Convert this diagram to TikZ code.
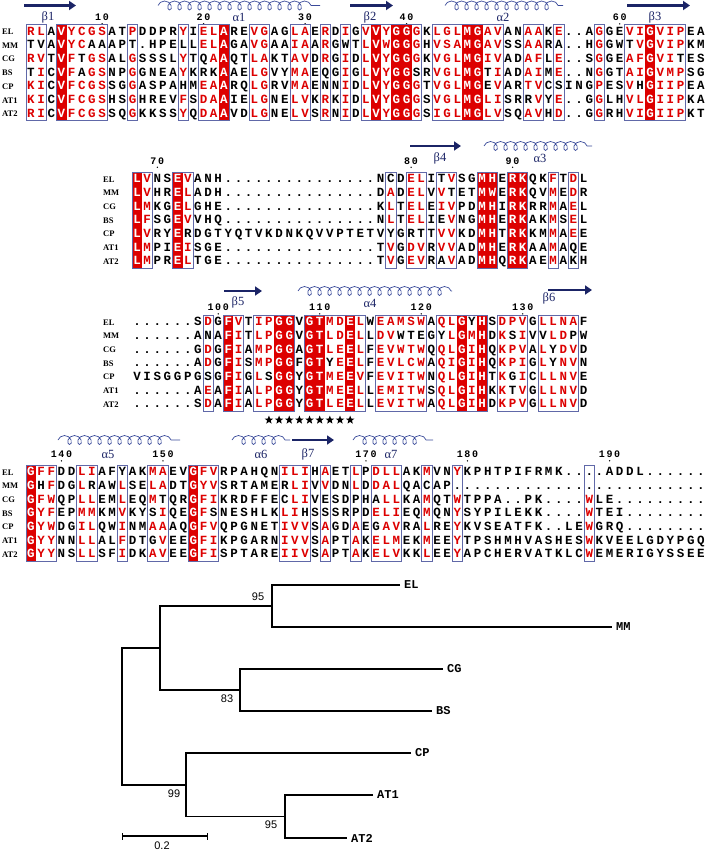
\documentclass[tikz,border=0pt]{standalone}
\usepackage{fontspec}
\setmainfont{Liberation Serif}
\setsansfont{Liberation Sans}
\setmonofont{Liberation Mono}
\usetikzlibrary{arrows.meta, decorations.pathmorphing, shapes.geometric}
\definecolor{espred}{HTML}{DD0000}
\definecolor{frameblue}{HTML}{6068A8}
\definecolor{ssnavy}{HTML}{1B2466}
\definecolor{ssblue}{HTML}{3A4A9A}

\makeatletter
\newcount\seqcol
\newcommand\colstep{10.15}
% one alignment row: block, label, x of label, x of first column, y, residues (lower case = red)
\newcommand\seqrow[6]{%
  \node[rowname] (#1#2) at (#3,#5+3) {#2};
  \seqcol=0
  \@tfor\seqch:=#6\do{%
    \advance\seqcol by 1
    \pgfmathsetmacro\seqx{#4+(\the\seqcol-1)*\colstep}%
    \ifcsname solid#1@\the\seqcol\endcsname\def\seqclr{white}%
    \else\ifnum\expandafter`\seqch>96 \def\seqclr{espred}\else\def\seqclr{black}\fi\fi
    \node[res, text=\seqclr] (#1#2-\the\seqcol) at (\seqx,#5+3.6) {\uppercase\expandafter{\seqch}};%
  }}
% strictly conserved columns: block, x of first column, top, bottom, columns
\newcommand\solidcols[5]{%
  \foreach \colno in {#5}{%
    \expandafter\gdef\csname solid#1@\colno\endcsname{}%
    \fill[espred] ({#2+(\colno-1.5)*\colstep},#3) rectangle ({#2+(\colno-0.5)*\colstep},#4);}}
% similarity frames: x of first column, top, bottom, column ranges
\newcommand\framecols[4]{%
  \foreach \p/\q in {#4}{%
    \draw[simframe] ({#1+(\p-1.5)*\colstep},#2) rectangle ({#1+(\q-0.5)*\colstep},#3);}}
% residue number with its dot: name, x of first column, column, baseline y, text
\newcommand\resnum[5]{%
  \node[numtag] (#1) at ({#2+(#3-1)*\colstep},#4) {#5};
  \fill ({#2+(#3-1)*\colstep},#4+3.3) circle (0.75);}
\makeatother

\begin{document}
\begin{tikzpicture}[x=1pt, y=-1pt, >={Triangle[length=7pt, width=9pt]},
  res/.style={font=\ttfamily\bfseries\fontsize{12.5}{12.5}\selectfont, inner sep=0, anchor=base},
  rowname/.style={font=\bfseries\fontsize{8.5}{8.5}\selectfont, inner sep=0, anchor=base west},
  numtag/.style={font=\ttfamily\bfseries\fontsize{10}{10}\selectfont, inner sep=0, anchor=base},
  sslbl/.style={font=\fontsize{12.5}{12.5}\selectfont, text=ssnavy, inner sep=0},
  strand/.style={ssnavy, line width=2.8pt, ->},
  helix/.style={ssblue, line width=0.7pt, decorate,
    decoration={coil, aspect=0.9, segment length=10pt, amplitude=4.5pt}},
  simframe/.style={draw=frameblue, line width=0.6pt},
  starmark/.style={star, star points=5, star point ratio=2.4, fill=black, minimum size=9pt, inner sep=0},
  branch/.style={line width=1.6pt, line join=miter},
  leaf/.style={font=\ttfamily\bfseries\fontsize{12}{12}\selectfont, anchor=west, inner sep=0, xshift=4pt},
  boot/.style={font=\sffamily\fontsize{11}{11}\selectfont, inner sep=0}]

% Background
\useasboundingbox (0,0) rectangle (708,851);
\fill[white] (0,0) rectangle (708,851);

% ---------------- Block 1 ----------------
\draw[strand] (24,5.5) -- (76,5.5);
\draw[helix] (158,5.5) -- (320,5.5);
\draw[strand] (350,5.5) -- (393,5.5);
\draw[helix] (445,5.5) -- (563,5.5);
\draw[strand] (627,5.5) -- (690,5.5);
\node[sslbl] (b1) at (48,17) {β1};
\node[sslbl] (a1) at (239,17) {α1};
\node[sslbl] (b2) at (370,17) {β2};
\node[sslbl] (a2) at (503,17) {α2};
\node[sslbl] (b3) at (655,17) {β3};
\resnum{n10}{31}{8}{20.5}{1\,0}
\resnum{n20}{31}{18}{20.5}{2\,0}
\resnum{n30}{31}{28}{20.5}{3\,0}
\resnum{n40}{31}{38}{20.5}{4\,0}
\resnum{n60}{31}{59}{20.5}{6\,0}

\solidcols{A}{31}{24.65}{120.65}{4,20,35,37,38,44,45,62}
\seqrow{A}{EL}{2}{31}{31.5}{rlAVycgsATpDDPRyIelAREvgAGlaErDiGvVyGGgKlglMGavANaaKe..AgGEviGvipEA}
\seqrow{A}{MM}{2}{31}{45.2}{TVAVycAAAPT.HPELLelAGAvgAAiaArGWTlVwGGgHvsaMGavSSaaRA..HgGWTvGvipKM}
\seqrow{A}{CG}{2}{31}{58.9}{rvTVfTgsALgSSSLyTQaAQTlaKTavDrGiDlVyGGgKvglMGivADafLe..SgGEafGviTES}
\seqrow{A}{BS}{2}{31}{72.6}{TiCVfAgsNPgGNEAyKRKAAElgVYmaEQGiGlVyGGSRvglMGTiADaiMe..NgGTaiGvmpSG}
\seqrow{A}{CP}{2}{31}{86.3}{kiCVfcgsSGgASPAHMeaARQlgRVmaENNiDlVyGGgTvglMGEvARtvCSINGpESvHGiipEA}
\seqrow{A}{AT1}{2}{31}{100}{kiCVfcgsHSgHREVfSdaAIElgNElvKrKiDlVyGGgSvglMGliSRRvYe..GgLHvlGiipKA}
\seqrow{A}{AT2}{2}{31}{113.7}{riCVfcgsSQgKKSSyQdaAVDlgNElvSrNiDlVyGGgSiglMGlvSQavHd..GgRHviGiipKT}
\framecols{31}{24.65}{120.65}{1/2,4/8,11/11,16/16,18/20,23/24,27/28,30/30,32/32,34/39,41/47,50/51,53/53,57/57,60/65}

% ---------------- Block 2 ----------------
\draw[strand] (410,146) -- (461,146);
\draw[helix] (484,146) -- (592,146);
\node[sslbl] (b4) at (440,158) {β4};
\node[sslbl] (a3) at (540,158) {α3};
\resnum{n70}{137}{3}{164}{7\,0}
\resnum{n80}{137}{28}{164}{8\,0}
\resnum{n90}{137}{38}{164}{9\,0}

\solidcols{B}{137}{172.15}{268.05}{1,5,35,36,38,39}
\seqrow{B}{EL}{103}{137}{179}{LvNSEvANH...............NCDelITvSGMHERKQKfTdL}
\seqrow{B}{MM}{103}{137}{192.7}{LvHRElADH...............DaDelVvTETMWERKQVmEdR}
\seqrow{B}{CG}{103}{137}{206.4}{LmKGElGHE...............KlTelEivPDMHIRKRRmAeL}
\seqrow{B}{BS}{103}{137}{220.1}{LfSGEvVHQ...............NlTelIEvNGMHERKAKmSeL}
\seqrow{B}{CP}{103}{137}{233.8}{LvRYERDGTYQTVKDNKQVVPTETVYGRTTvvKDMHTRKKMmAeE}
\seqrow{B}{AT1}{103}{137}{247.5}{LmPIEiSGE...............TvGdvRvvADMHERKAAmAQE}
\seqrow{B}{AT2}{103}{137}{261.2}{LmPRElTGE...............TvGevRAvADMHQRKAEmAKH}
\framecols{137}{172.15}{268.05}{1/2,5/6,26/26,28/29,31/32,35/36,38/39,42/42,44/44}

% ---------------- Block 3 ----------------
\draw[strand] (224,291) -- (262,291);
\draw[helix] (298,291) -- (452,291);
\draw[strand] (548,290) -- (592,290);
\node[sslbl] (b5) at (238,302) {β5};
\node[sslbl] (a4) at (370,303) {α4};
\node[sslbl] (b6) at (549,298) {β6};
\resnum{n100}{137}{9}{310.5}{1\,0\,0}
\resnum{n110}{137}{19}{310.5}{1\,1\,0}
\resnum{n120}{137}{29}{310.5}{1\,2\,0}
\resnum{n130}{137}{39}{310.5}{1\,3\,0}

\solidcols{C}{137}{315.15}{411.05}{10,15,16,18,19,22,33,35}
\seqrow{C}{EL}{103}{137}{322}{......SdGFvTipGGVGTmdElWeamswAqlGYHSdpvGllnaF}
\seqrow{C}{MM}{103}{137}{335.7}{......ANAFiTlpGGVGTldElLdvWTEGYlGmHDkSiVVldPW}
\seqrow{C}{CG}{103}{137}{349.4}{......GdGFiAmpGGAGTleElFevwtwQqlGiHQkpvAlYdvD}
\seqrow{C}{BS}{103}{137}{363.1}{......AdGFiSmpGGFGTYeElFevlcwAqiGiHQkpiGlYnvN}
\seqrow{C}{CP}{103}{137}{376.8}{VISGGPGSGFiGlSGGYGTmeEvFevitwNqlGiHTkGiCllnvE}
\seqrow{C}{AT1}{103}{137}{390.5}{......AeAFiAlpGGYGTmeElLemitwSqlGiHKkTvGllnvD}
\seqrow{C}{AT2}{103}{137}{404.2}{......SdAFiAlpGGYGTleElLevitwAqlGiHDkpvGllnvD}
\framecols{137}{315.15}{411.05}{8/8,10/11,13/16,18/23,25/29,31/35,37/39,41/44}
\foreach \s in {14,...,22}
  \node[starmark] (star\s) at ({137+(\s-1)*\colstep},420) {};

% ---------------- Block 4 ----------------
\draw[helix] (58,440) -- (180,440);
\draw[helix] (232,440) -- (290,440);
\draw[strand] (292,440) -- (334,440);
\draw[helix] (353,440) -- (433,440);
\node[sslbl] (a5) at (108,454) {α5};
\node[sslbl] (a6) at (261,454) {α6};
\node[sslbl] (b7) at (308,454) {β7};
\node[sslbl] (a7) at (391,454) {α7};
\resnum{n140}{31}{4}{457.5}{1\,4\,0}
\resnum{n150}{31}{14}{457.5}{1\,5\,0}
\resnum{n170}{31}{34}{457.5}{1\,7\,0}
\resnum{n180}{31}{44}{457.5}{1\,8\,0}
\resnum{n190}{31}{58}{457.5}{1\,9\,0}

\solidcols{D}{31}{465.15}{561.05}{1,17}
\seqrow{D}{EL}{2}{31}{472}{GffDDliAFYAKmaEVGfvRPAHQNiliHaETlPdllAKmVNyKPHTPIFRMK....ADDL......}
\seqrow{D}{MM}{2}{31}{485.7}{GHfDGlRAWlSElaDTGyvSRTAMERliVvDNlDdalQACAP.........................}
\seqrow{D}{CG}{2}{31}{499.4}{GfwQPllEMlEQmTQRGfiKRDFFECliVESDPHAllKAmQTwTPPA..PK....wLE.........}
\seqrow{D}{BS}{2}{31}{513.1}{GyfEPmmKMvKYSiQEGfSNESHLKliHSSSRPDeliEQmQNySYPILEKK....wTEI........}
\seqrow{D}{CP}{2}{31}{526.8}{GywDGilQWiNMaaAQGfvQPGNETivvSaGDaEGavRAlREyKVSEATFK..LEwGRQ........}
\seqrow{D}{AT1}{2}{31}{540.5}{GyyNNllALfDTGvEEGfiKPGARNivvSaPTaKelmEKmEEyTPSHMHVASHESwKVEELGDYPGQ}
\seqrow{D}{AT2}{2}{31}{554.2}{GyyNSllSFiDKavEEGfiSPTAREiivSaPTaKelvKKlEEyAPCHERVATKLCwEMERIGYSSEE}
\framecols{31}{465.15}{561.05}{1/3,6/7,10/10,13/14,17/19,26/28,30/30,33/33,35/37,40/40,43/43,56/56}

% ---------------- Tree ----------------
\coordinate (tEL) at (400,585);
\coordinate (tMM) at (612,627);
\coordinate (tCG) at (443,669);
\coordinate (tBS) at (432,711);
\coordinate (tCP) at (411,753);
\coordinate (tAT1) at (373,795);
\coordinate (tAT2) at (347,838);
\coordinate (nEM) at (272,606);
\coordinate (nCB) at (240,690);
\coordinate (nA) at (160,648);
\coordinate (nAT) at (285,816.5);
\coordinate (nCA) at (186,784.75);
\coordinate (root) at (122,716.4);

\draw[branch] (tEL) -| (nEM) |- (tMM);
\draw[branch] (tCG) -| (nCB) |- (tBS);
\draw[branch] (nEM) -| (nA) |- (nCB);
\draw[branch] (tAT1) -| (nAT) |- (tAT2);
\draw[branch] (tCP) -| (nCA) |- (nAT);
\draw[branch] (nA) -| (root) |- (nCA);

\node[leaf] (lEL) at (tEL) {EL};
\node[leaf] (lMM) at (tMM) {MM};
\node[leaf] (lCG) at (tCG) {CG};
\node[leaf] (lBS) at (tBS) {BS};
\node[leaf] (lCP) at (tCP) {CP};
\node[leaf] (lAT1) at (tAT1) {AT1};
\node[leaf] (lAT2) at (tAT2) {AT2};

% bootstrap values
\node[boot] (bEM) at (258,597) {95};
\node[boot] (bCB) at (227,699) {83};
\node[boot] (bCA) at (174,794) {99};
\node[boot] (bAT) at (271,825) {95};

% scale bar
\coordinate (sbL) at (122,836);
\coordinate (sbR) at (207,836);
\draw[line width=1.2pt] (sbL) -- (sbR);
\draw[line width=0.8pt] ([yshift=-3.5pt]sbL) -- ([yshift=3.5pt]sbL);
\draw[line width=0.8pt] ([yshift=-3.5pt]sbR) -- ([yshift=3.5pt]sbR);
\node[boot] (sbT) at (162,846) {0.2};

\end{tikzpicture}
\end{document}
